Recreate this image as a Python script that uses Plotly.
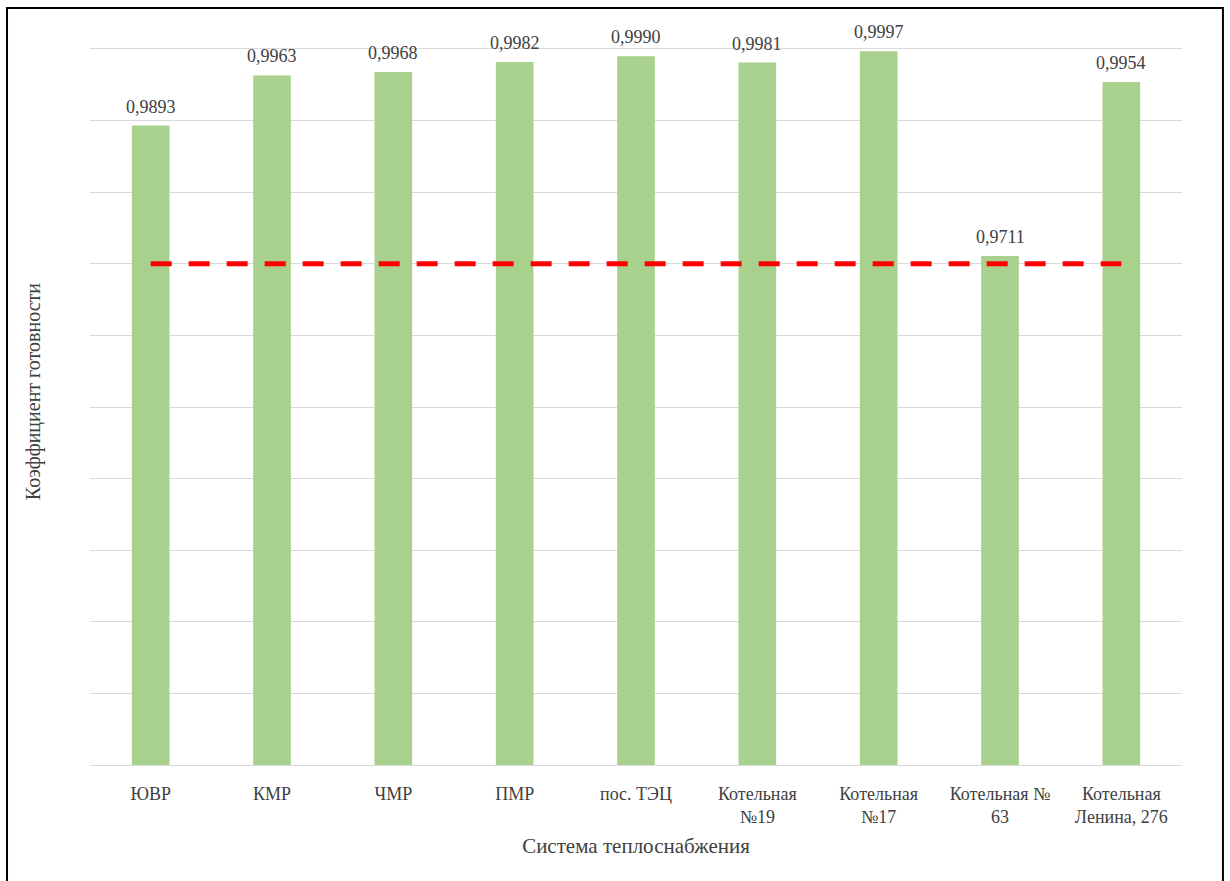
import plotly.graph_objects as go

categories = ["ЮВР", "КМР", "ЧМР", "ПМР", "пос. ТЭЦ", "Котельная<br>№19",
              "Котельная<br>№17", "Котельная №<br>63", "Котельная<br>Ленина, 276"]
values = [0.9893, 0.9963, 0.9968, 0.9982, 0.9990, 0.9981, 0.9997, 0.9711, 0.9954]
labels = ["0,9893", "0,9963", "0,9968", "0,9982", "0,9990", "0,9981", "0,9997", "0,9711", "0,9954"]
threshold = [0.97] * len(categories)

FONT = "Liberation Serif, Times New Roman, serif"
TXT = "#404040"
GRID = "#D9D9D9"

fig = go.Figure()
fig.add_trace(go.Bar(
    x=categories, y=values,
    marker=dict(color="#A9D18E", line=dict(width=0)),
    width=0.31, showlegend=False,
))
fig.add_trace(go.Scatter(
    x=categories, y=threshold, mode="lines",
    line=dict(color="#FF0000", width=5, dash="21px,17px"),
    showlegend=False,
))

annotations = [
    dict(x=c, y=v, text=t, showarrow=False, xref="x", yref="y",
         yanchor="bottom", yshift=7, font=dict(family=FONT, size=18, color=TXT))
    for c, v, t in zip(categories, values, labels)
]
annotations.append(dict(
    text="Коэффициент готовности", textangle=-90, showarrow=False,
    xref="paper", yref="paper", x=-0.052, y=0.5, xanchor="center", yanchor="middle",
    yshift=15, font=dict(family=FONT, size=20, color=TXT),
))

fig.update_layout(
    width=1230, height=881,
    margin=dict(l=90, r=48, t=49, b=116),
    paper_bgcolor="white", plot_bgcolor="white",
    font=dict(family=FONT, size=18, color=TXT),
    annotations=annotations,
    xaxis=dict(
        title=dict(text="Система теплоснабжения", font=dict(family=FONT, size=21, color=TXT), standoff=12),
        tickfont=dict(family=FONT, size=18, color=TXT),
        ticklabelstandoff=12,
        showline=True, linecolor=GRID, linewidth=1, mirror=True,
        ticks="", showgrid=False,
    ),
    yaxis=dict(
        range=[0.9, 1.0], tick0=0.9, dtick=0.01, showticklabels=False,
        showgrid=True, gridcolor=GRID, gridwidth=1, zeroline=False, showline=False,
    ),
    shapes=[dict(type="rect", xref="paper", yref="paper",
                 x0=-0.076, x1=1.0375, y0=-0.18, y1=1.0573,
                 line=dict(color="black", width=2), fillcolor="rgba(0,0,0,0)", layer="above")],
)

fig.write_html("out.html")
